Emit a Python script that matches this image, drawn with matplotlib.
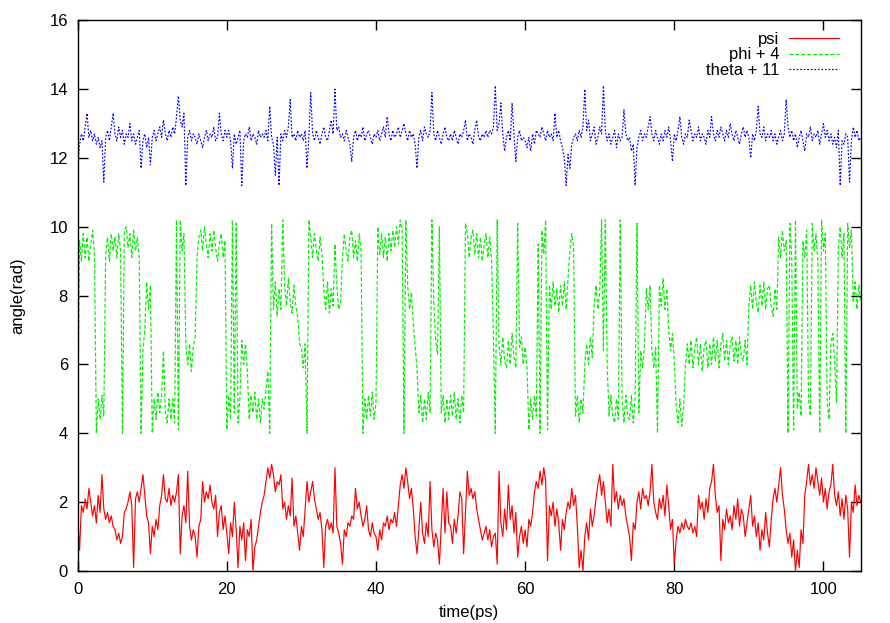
import numpy as np
import matplotlib
matplotlib.use("Agg")
import matplotlib.pyplot as plt

plt.rcParams['font.family'] = ['Liberation Sans', 'DejaVu Sans']

# sampling step of the traces (ps)
step = 0.25

psi = [
    1.5, 0.6, 1.9, 1.7, 2.1, 1.8, 2.4, 2.0, 1.6, 1.9, 1.4, 2.2, 1.7, 2.8, 1.8, 1.5, 1.7, 1.4, 1.6, 1.3,
    1.2, 0.9, 1.1, 0.8, 1.0, 1.7, 1.8, 2.0, 2.3, 1.9, 0.1, 2.1, 2.3, 2.0, 2.4, 2.8, 2.2, 1.6, 1.4, 0.5,
    1.3, 1.0, 1.5, 1.2, 1.9, 2.2, 2.8, 2.1, 2.0, 2.4, 1.9, 2.2, 2.0, 2.3, 2.8, 0.5, 1.6, 1.9, 1.4, 2.9,
    1.3, 0.9, 1.2, 1.0, 0.4, 1.3, 1.5, 2.6, 2.0, 2.3, 2.1, 2.5, 2.0, 1.8, 2.2, 1.0, 1.7, 1.9, 1.2, 1.6,
    1.1, 0.5, 1.4, 1.0, 2.0, 1.2, 0.1, 1.3, 0.9, 1.4, 0.3, 1.2, 1.0, 1.5, 0.0, 0.7, 0.9, 1.3, 1.7, 2.0,
    2.2, 2.6, 3.0, 2.7, 3.1, 2.8, 2.3, 2.6, 2.5, 2.8, 1.8, 2.0, 1.5, 1.9, 1.6, 2.7, 1.3, 1.6, 1.1, 0.6,
    1.3, 1.0, 1.8, 2.6, 2.0, 2.3, 2.6, 2.1, 1.8, 1.5, 1.7, 1.2, 0.1, 1.3, 1.5, 1.2, 1.4, 1.1, 3.0, 1.3,
    1.1, 0.8, 0.2, 1.2, 1.0, 1.4, 1.3, 1.6, 1.5, 2.4, 1.8, 2.0, 1.6, 1.3, 1.5, 1.9, 1.2, 1.0, 1.4, 1.1,
    1.0, 0.6, 1.2, 0.9, 1.4, 1.3, 1.6, 1.2, 1.5, 1.4, 1.7, 1.3, 1.9, 2.5, 2.8, 2.4, 3.0, 2.6, 2.1, 2.4,
    1.8, 1.0, 0.5, 1.2, 2.0, 1.1, 0.8, 1.4, 1.0, 2.6, 1.2, 0.7, 1.1, 0.9, 0.2, 1.3, 2.4, 1.1, 2.3, 1.4,
    1.3, 0.8, 1.5, 1.1, 1.6, 2.3, 2.1, 0.5, 1.7, 2.9, 2.2, 2.4, 2.1, 2.3, 1.8, 1.5, 1.2, 0.9, 1.1, 1.3,
    0.9, 1.2, 0.7, 1.0, 1.1, 0.2, 2.9, 1.4, 1.0, 1.8, 1.2, 2.5, 1.5, 1.9, 1.1, 1.7, 0.4, 1.0, 1.3, 0.8,
    1.2, 0.7, 1.5, 1.3, 1.7, 2.3, 2.6, 2.4, 2.9, 2.5, 3.0, 2.6, 0.3, 1.9, 1.6, 2.0, 1.3, 1.8, 1.4, 0.6,
    1.5, 1.2, 1.7, 2.0, 1.8, 2.4, 1.9, 2.2, 1.3, 0.1, 0.6, 0.0, 1.0, 1.4, 0.9, 1.8, 1.3, 1.6, 2.1, 2.5,
    2.8, 2.2, 2.6, 2.0, 1.4, 1.8, 1.3, 3.1, 2.0, 2.3, 1.8, 2.2, 1.9, 2.1, 1.6, 1.3, 1.0, 0.3, 1.4, 1.2,
    2.0, 2.3, 1.8, 2.4, 2.1, 2.2, 1.9, 2.3, 3.1, 2.0, 1.7, 1.5, 2.1, 1.8, 2.2, 1.6, 2.5, 1.9, 1.2, 1.5,
    0.2, 0.9, 1.3, 1.1, 1.4, 1.2, 1.5, 1.3, 1.2, 1.4, 1.1, 1.3, 1.0, 2.2, 1.8, 2.0, 1.5, 2.1, 1.7, 2.4,
    2.6, 3.1, 2.2, 1.7, 1.9, 0.3, 1.5, 1.2, 1.8, 1.4, 1.6, 1.2, 1.9, 1.5, 2.1, 1.3, 1.8, 1.6, 1.0, 1.4,
    1.8, 2.2, 1.3, 1.6, 1.0, 1.4, 0.6, 1.2, 0.9, 1.7, 1.1, 0.7, 1.5, 2.1, 2.4, 2.0, 2.5, 3.0, 2.2, 1.8,
    1.2, 0.8, 1.1, 0.4, 0.9, 0.0, 0.6, 0.1, 1.2, 0.8, 2.2, 2.6, 3.1, 2.5, 2.8, 2.4, 3.0, 2.6, 2.2, 2.7,
    2.0, 2.4, 1.8, 2.3, 2.5, 3.1, 2.2, 1.9, 2.3, 1.6, 2.1, 1.5, 2.2, 1.8, 0.4, 2.0, 1.7, 2.5, 1.9, 2.2,
    2.0,
]

phi4 = [
    4.1, 9.6, 9.0, 9.8, 9.1, 9.7, 9.0, 9.5, 9.9, 9.2, 4.0, 5.0, 4.4, 5.1, 4.5, 9.2, 9.7, 9.0, 9.8, 9.3,
    9.7, 9.1, 9.8, 9.3, 4.0, 9.9, 10.0, 9.4, 9.8, 9.1, 9.9, 9.3, 9.7, 9.1, 4.0, 6.4, 7.0, 8.4, 7.6, 8.3,
    4.0, 5.0, 4.4, 5.2, 4.6, 5.1, 6.4, 4.6, 4.3, 5.0, 4.4, 5.0, 4.3, 10.2, 4.1, 10.2, 9.3, 9.8, 6.6, 6.0,
    6.6, 5.8, 6.5, 6.8, 9.1, 9.7, 9.9, 9.3, 10.0, 9.5, 9.1, 9.8, 9.3, 9.9, 9.4, 9.0, 9.5, 9.8, 9.1, 9.6,
    4.1, 5.1, 4.4, 10.2, 4.6, 10.1, 4.3, 5.0, 6.7, 6.0, 6.6, 5.8, 4.4, 5.1, 4.6, 5.2, 4.4, 5.0, 4.3, 5.0,
    4.7, 5.3, 5.8, 4.0, 10.1, 7.6, 8.4, 7.4, 8.2, 7.6, 10.2, 8.3, 7.7, 8.5, 7.8, 7.5, 8.3, 7.7, 7.4, 6.6,
    6.5, 5.9, 6.6, 4.0, 10.2, 9.7, 9.1, 9.8, 9.3, 9.0, 9.7, 9.2, 8.2, 7.6, 8.4, 7.5, 8.2, 7.7, 9.5, 8.3,
    7.6, 7.8, 9.1, 9.8, 9.3, 9.0, 9.7, 9.9, 9.1, 9.6, 9.0, 9.8, 9.3, 4.0, 5.0, 4.4, 5.1, 4.5, 5.2, 4.4,
    4.9, 10.0, 9.2, 9.8, 9.1, 9.7, 9.0, 9.8, 9.3, 9.9, 9.4, 10.0, 9.5, 10.2, 9.9, 4.0, 10.2, 8.3, 7.6, 8.1,
    7.2, 6.5, 5.9, 4.6, 5.1, 4.3, 5.0, 4.4, 5.2, 4.6, 10.2, 7.8, 6.7, 6.3, 10.0, 4.6, 5.1, 4.3, 5.0, 4.4,
    5.1, 4.5, 5.2, 4.4, 5.0, 4.3, 5.1, 4.6, 10.1, 9.8, 9.1, 9.7, 9.9, 9.2, 9.8, 9.1, 9.7, 9.0, 9.5, 9.8,
    9.1, 9.7, 9.0, 6.8, 4.0, 10.2, 6.6, 6.0, 6.8, 6.1, 5.9, 6.7, 6.0, 6.9, 6.2, 5.9, 10.1, 6.5, 6.8, 6.0,
    6.5, 5.9, 4.1, 5.0, 4.4, 5.1, 4.5, 9.5, 4.0, 9.9, 9.2, 10.2, 4.1, 8.3, 7.6, 8.4, 7.7, 8.2, 7.5, 8.3,
    7.7, 8.4, 7.6, 8.5, 9.3, 9.8, 9.4, 4.5, 5.1, 4.3, 5.0, 4.6, 6.0, 6.6, 6.0, 6.8, 6.2, 7.7, 8.3, 7.6,
    8.1, 10.2, 6.4, 10.2, 6.0, 4.5, 5.1, 4.5, 4.3, 5.0, 4.4, 10.2, 5.0, 4.3, 5.1, 4.5, 4.4, 5.1, 4.3, 5.0,
    10.1, 4.6, 6.4, 5.9, 6.6, 8.2, 7.6, 8.3, 6.4, 5.9, 6.5, 4.0, 8.3, 7.7, 8.5, 7.6, 8.2, 7.0, 6.4, 6.9,
    6.1, 4.8, 4.3, 5.0, 4.2, 4.8, 6.0, 6.6, 6.0, 6.7, 5.9, 6.5, 6.8, 6.0, 6.6, 5.8, 6.5, 6.7, 5.9, 6.6,
    6.0, 6.8, 6.1, 6.7, 5.9, 6.6, 6.9, 6.1, 6.7, 6.0, 6.6, 6.8, 6.1, 6.7, 6.0, 6.8, 6.2, 6.1, 6.7, 6.0,
    7.7, 8.3, 7.6, 8.4, 7.8, 7.5, 8.3, 7.7, 8.4, 7.6, 8.2, 8.3, 7.7, 7.4, 8.2, 7.6, 9.7, 9.1, 9.9, 9.3,
    9.6, 4.0, 10.1, 9.1, 4.1, 10.2, 4.7, 5.2, 4.5, 9.6, 9.1, 9.9, 5.0, 4.5, 10.1, 9.3, 9.8, 9.0, 4.0, 10.2,
    9.3, 9.8, 4.9, 4.4, 6.6, 6.9, 6.1, 4.9, 9.4, 10.0, 9.1, 9.8, 4.0, 10.1, 9.4, 9.9, 7.8, 8.4, 7.6, 8.3,
    7.8,
]

theta11 = [
    11.8, 12.4, 12.7, 12.5, 12.9, 13.3, 12.6, 12.8, 12.5, 12.7, 12.4, 12.6, 12.3, 12.5, 11.3, 12.6, 12.8, 12.5, 12.9, 13.3,
    12.7, 12.5, 12.9, 12.6, 12.8, 12.4, 12.7, 12.6, 13.0, 12.5, 12.7, 12.4, 12.6, 12.8, 11.7, 12.5, 12.7, 12.3, 12.6, 11.8,
    12.6, 12.8, 12.5, 12.7, 12.9, 12.6, 13.1, 12.7, 12.5, 12.8, 12.6, 12.9, 12.7, 13.2, 13.8, 13.1, 12.9, 13.3, 11.2, 12.6,
    12.8, 12.5, 12.7, 12.6, 12.4, 12.7, 12.5, 12.3, 12.6, 12.8, 12.5, 12.7, 12.6, 12.9, 12.5, 12.6, 13.3, 12.7, 12.5, 12.8,
    12.6, 12.8, 12.5, 11.7, 12.7, 12.4, 12.6, 12.8, 11.2, 12.5, 12.7, 12.6, 12.9, 12.5, 12.7, 12.6, 12.4, 12.8, 12.6, 12.7,
    12.6, 12.8, 12.5, 13.5, 12.6, 12.4, 11.5, 12.6, 11.2, 12.7, 12.5, 12.8, 12.6, 12.9, 13.7, 12.6, 12.7, 12.5, 12.8, 12.6,
    12.7, 12.5, 12.8, 11.7, 12.6, 13.9, 12.7, 12.5, 12.8, 12.6, 12.4, 12.7, 12.9, 12.6, 12.5, 12.8, 13.1, 12.7, 14.0, 12.8,
    12.9, 12.6, 12.7, 12.5, 12.8, 12.6, 12.4, 11.9, 12.6, 12.8, 12.5, 12.7, 12.6, 12.9, 12.5, 12.7, 12.8, 12.6, 12.4, 12.7,
    12.6, 12.8, 12.5, 12.7, 12.9, 12.6, 13.2, 12.7, 12.5, 12.8, 12.6, 12.7, 12.9, 12.6, 12.8, 13.0, 12.7, 12.5, 12.8, 12.6,
    12.7, 12.4, 11.7, 12.6, 12.8, 12.5, 12.9, 12.7, 12.6, 12.8, 13.9, 12.7, 12.5, 12.8, 12.6, 12.4, 12.7, 12.9, 12.6, 12.5,
    12.7, 12.5, 12.8, 12.6, 12.4, 12.7, 12.6, 12.8, 13.1, 12.5, 12.7, 12.6, 12.4, 12.8, 13.1, 12.6, 12.5, 12.7, 12.6, 12.8,
    12.6, 12.8, 12.7, 12.9, 14.1, 12.8, 13.0, 13.6, 12.7, 12.2, 12.6, 12.8, 12.5, 13.6, 12.7, 11.9, 12.6, 12.8, 12.5, 12.6,
    12.5, 12.3, 12.6, 12.2, 12.7, 12.4, 12.8, 12.7, 12.6, 12.9, 12.7, 12.5, 12.8, 12.6, 12.7, 12.5, 13.3, 12.6, 12.8, 12.5,
    12.3, 12.0, 11.2, 12.1, 11.7, 12.4, 12.6, 12.7, 12.5, 12.8, 12.6, 12.9, 14.0, 12.8, 13.1, 12.5, 12.7, 12.9, 12.4, 12.6,
    12.9, 12.7, 14.1, 12.8, 12.5, 12.7, 12.4, 12.6, 12.8, 12.3, 12.7, 12.5, 12.6, 13.4, 12.7, 12.5, 12.6, 12.2, 12.4, 11.2,
    12.3, 12.6, 12.8, 12.5, 12.7, 12.6, 12.9, 13.2, 12.7, 12.5, 12.8, 12.6, 12.4, 12.7, 12.5, 12.8, 12.6, 12.9, 12.5, 11.9,
    12.7, 12.5, 12.8, 13.2, 12.6, 12.4, 12.7, 12.6, 13.1, 12.8, 12.5, 12.7, 12.6, 12.9, 12.5, 12.7, 12.6, 12.4, 12.8, 12.6,
    13.2, 12.7, 12.5, 12.8, 12.6, 12.9, 12.7, 12.5, 12.8, 12.6, 13.0, 12.7, 12.5, 12.8, 12.6, 12.4, 12.7, 12.9, 12.6, 12.8,
    12.6, 12.0, 12.7, 12.5, 12.8, 13.5, 12.7, 12.6, 12.9, 12.5, 12.7, 12.6, 12.8, 12.5, 12.7, 12.4, 12.6, 12.8, 12.5, 12.7,
    13.7, 12.9, 12.6, 12.8, 12.5, 12.7, 12.3, 12.6, 12.8, 12.5, 12.2, 12.7, 12.6, 12.9, 12.5, 12.7, 12.6, 12.8, 12.4, 12.7,
    13.0, 12.6, 12.8, 12.5, 12.7, 12.4, 12.6, 12.3, 12.8, 11.2, 12.5, 12.4, 12.7, 12.6, 11.3, 12.5, 12.9, 12.6, 12.8, 12.5,
    12.6,
]

labels = ["psi", "phi + 4", "theta + 11"]
x_ticks = [0, 20, 40, 60, 80, 100]
y_ticks = [0, 2, 4, 6, 8, 10, 12, 14, 16]

fig = plt.figure(figsize=(8.9, 6.23), dpi=100)
ax = fig.add_axes([0.0873, 0.0835, 0.8798, 0.8839])

t_psi = np.arange(len(psi)) * step
t_phi = np.arange(len(phi4)) * step
t_theta = np.arange(len(theta11)) * step

ax.plot(t_psi, psi, color="#ff0000", lw=0.85, label=labels[0])
ax.plot(t_phi, phi4, color="#00f000", lw=0.85, dashes=(3.2, 1.8), label=labels[1])
ax.plot(t_theta, theta11, color="#0000ff", lw=0.85, dashes=(1.5, 1.5), label=labels[2])

ax.set_xlim(0, 105)
ax.set_ylim(0, 16)
ax.set_xticks(x_ticks)
ax.set_yticks(y_ticks)
ax.tick_params(direction="in", top=True, right=True, length=7, width=1, labelsize=12)
ax.tick_params(axis="x", pad=8)
ax.tick_params(axis="y", pad=7)
for s in ax.spines.values():
    s.set_linewidth(1)

ax.set_xlabel("time(ps)", fontsize=12, labelpad=6)
ax.set_ylabel("angle(rad)", fontsize=12, labelpad=17)

leg = ax.legend(loc="upper right", bbox_to_anchor=(0.996, 1.0127), frameon=False,
                markerfirst=False, fontsize=12, handlelength=3.0, handletextpad=0.6,
                labelspacing=0.05, borderaxespad=0.7, borderpad=0.4)

plt.savefig("out.png", dpi=100)
